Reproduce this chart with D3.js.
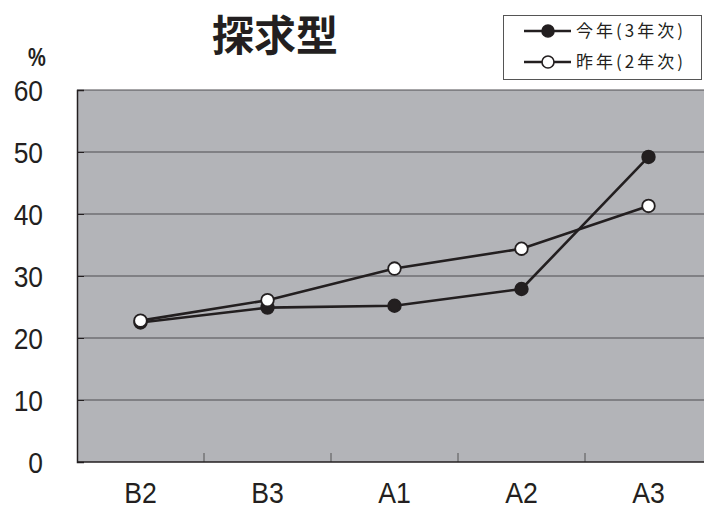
<!DOCTYPE html>
<html>
  <head>
    <meta charset="utf-8">
    <title>探求型</title>
    <script src="https://d3js.org/d3.v7.min.js"></script>
    <style>
      body { margin: 0; background: #fff; }
      svg { display: block; }
    </style>
  </head>
  <body>
    <div id="chart"></div>
    <script>

      // data
      var categories = ["B2", "B3", "A1", "A2", "A3"];
      var thisYear = [22.5, 24.9, 25.2, 27.9, 49.2];   // 今年(3年次)
      var lastYear = [22.8, 26.1, 31.2, 34.4, 41.3];   // 昨年(2年次)
      var yTicks = [0, 10, 20, 30, 40, 50, 60];
      var seriesNames = ["今年(3年次)", "昨年(2年次)"];

      var width = 704, height = 510;
      var plot = {left: 77, right: 712, top: 90, bottom: 462};
      var ink = "#231f20";
      var numFont = "'Liberation Sans', Arial, sans-serif";
      var cjkFont = "'Noto Sans CJK JP', 'Noto Sans CJK SC', sans-serif";

      var svg = d3.select("#chart").append("svg")
        .attr("width", width)
        .attr("height", height);

      var x = d3.scaleBand()
        .domain(categories)
        .range([plot.left, plot.right]);

      var y = d3.scaleLinear()
        .domain([0, 60])
        .range([plot.bottom, plot.top]);

      // plot background
      svg.append("rect")
        .attr("x", plot.left)
        .attr("y", plot.top)
        .attr("width", plot.right - plot.left)
        .attr("height", plot.bottom - plot.top)
        .attr("fill", "#b3b4b8");

      // gridlines
      svg.selectAll(".grid").data(yTicks.slice(1)).enter().append("line")
        .attr("class", "grid")
        .attr("x1", plot.left)
        .attr("x2", plot.right)
        .attr("y1", function (d) { return y(d); })
        .attr("y2", function (d) { return y(d); })
        .attr("stroke", "#4e4d50")
        .attr("stroke-width", 1.2);

      // y axis (labels drawn separately so they can be narrowed)
      var yAxis = d3.axisLeft(y).tickValues(yTicks).tickSize(-7).tickFormat("");
      var gy = svg.append("g")
        .attr("transform", "translate(" + plot.left + ",0)")
        .call(yAxis);
      gy.select(".domain").attr("stroke", ink).attr("stroke-width", 1.5);
      gy.selectAll(".tick line").attr("stroke", ink).attr("stroke-width", 1);

      svg.selectAll(".ylabel").data(yTicks).enter().append("text")
        .attr("class", "ylabel")
        .attr("transform", function (d) { return "translate(43," + y(d) + ") scale(0.88,1)"; })
        .attr("dy", "0.36em")
        .attr("text-anchor", "end")
        .attr("fill", ink)
        .style("font-family", numFont)
        .style("font-size", "30px")
        .text(function (d) { return d; });

      // x axis: ticks sit between categories
      var boundaries = categories.slice(1).map(function (c) { return x(c); });
      svg.selectAll(".xtick").data(boundaries).enter().append("line")
        .attr("class", "xtick")
        .attr("x1", function (d) { return d; })
        .attr("x2", function (d) { return d; })
        .attr("y1", plot.bottom)
        .attr("y2", plot.bottom - 9)
        .attr("stroke", "#555")
        .attr("stroke-width", 1);
      svg.append("line")
        .attr("x1", plot.left).attr("x2", plot.right)
        .attr("y1", plot.bottom).attr("y2", plot.bottom)
        .attr("stroke", ink).attr("stroke-width", 1.5);

      svg.selectAll(".xlabel").data(categories).enter().append("text")
        .attr("class", "xlabel")
        .attr("transform", function (d) {
          return "translate(" + (x(d) + x.bandwidth() / 2) + ",503) scale(0.92,1)";
        })
        .attr("text-anchor", "middle")
        .attr("fill", ink)
        .style("font-family", numFont)
        .style("font-size", "29px")
        .text(function (d) { return d; });

      // lines and markers
      var line = d3.line()
        .x(function (d, i) { return x(categories[i]) + x.bandwidth() / 2; })
        .y(function (d) { return y(d); });

      function drawSeries(values, fill) {
        svg.append("path")
          .datum(values)
          .attr("d", line)
          .attr("fill", "none")
          .attr("stroke", ink)
          .attr("stroke-width", 2.6);
        svg.append("g").selectAll("circle").data(values).enter().append("circle")
          .attr("cx", function (d, i) { return x(categories[i]) + x.bandwidth() / 2; })
          .attr("cy", function (d) { return y(d); })
          .attr("r", 6.3)
          .attr("fill", fill)
          .attr("stroke", ink)
          .attr("stroke-width", 1.8);
      }
      drawSeries(thisYear, ink);
      drawSeries(lastYear, "#fff");

      // title and unit
      svg.append("text")
        .attr("x", 275)
        .attr("y", 51)
        .attr("text-anchor", "middle")
        .attr("fill", ink)
        .style("font-family", cjkFont)
        .style("font-weight", "bold")
        .style("font-size", "42px")
        .text("探求型");

      svg.append("text")
        .attr("transform", "translate(37,66) scale(0.8,1)")
        .attr("text-anchor", "middle")
        .attr("fill", ink)
        .style("font-family", numFont)
        .style("font-weight", "bold")
        .style("font-size", "25px")
        .text("%");

      // legend
      var legend = svg.append("g");
      legend.append("rect")
        .attr("x", 503.5).attr("y", 15.5)
        .attr("width", 198).attr("height", 64)
        .attr("fill", "#fff")
        .attr("stroke", "#555")
        .attr("stroke-width", 1);
      var fills = [ink, "#fff"];
      seriesNames.forEach(function (name, i) {
        var ly = 31 + i * 31;
        legend.append("line")
          .attr("x1", 524).attr("x2", 571)
          .attr("y1", ly).attr("y2", ly)
          .attr("stroke", ink).attr("stroke-width", 2.4);
        legend.append("circle")
          .attr("cx", 548).attr("cy", ly).attr("r", 6)
          .attr("fill", fills[i]).attr("stroke", ink).attr("stroke-width", 1.6);
        legend.append("text")
          .attr("x", 576).attr("y", ly + 6)
          .attr("fill", ink)
          .style("font-family", cjkFont)
          .style("font-size", "17px")
          .style("letter-spacing", "3px")
          .text(name);
      });

    </script>
  </body>
</html>
